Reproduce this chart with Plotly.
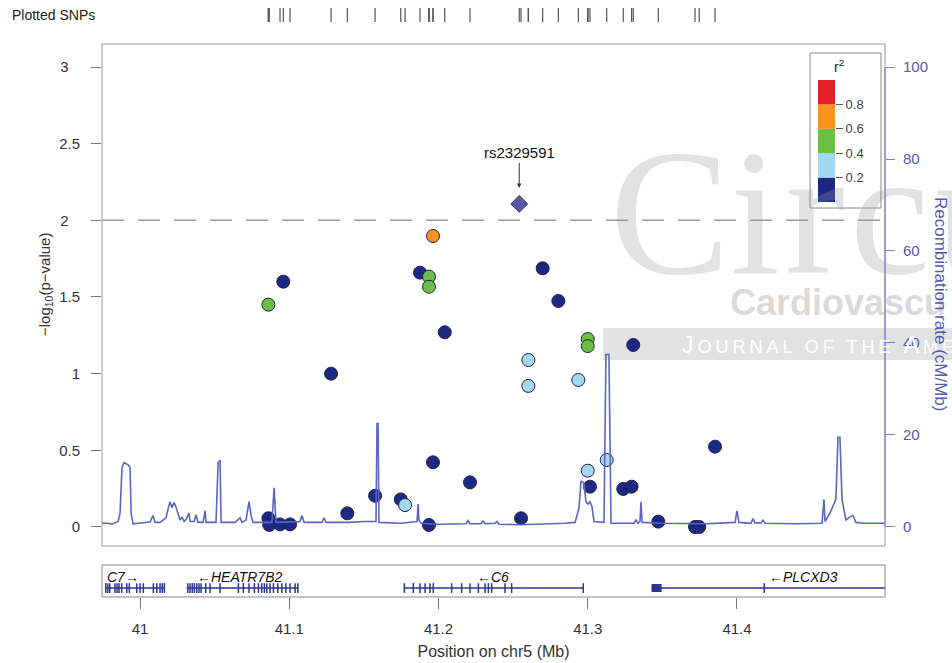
import plotly.graph_objects as go

# ---------------- data ----------------
snp_pos = [41.0860, 41.0960, 41.1280, 41.0860, 41.0866, 41.0938, 41.1005, 41.1389,
           41.1575, 41.1747, 41.1776, 41.1876, 41.1936, 41.1936, 41.1963, 41.1963,
           41.1936, 41.2042, 41.2211, 41.2553, 41.2602, 41.2602, 41.2698, 41.2803,
           41.2937, 41.3000, 41.3000, 41.3000, 41.3015, 41.3127, 41.3238, 41.3294,
           41.3305, 41.3473, 41.3719, 41.3747, 41.3853]
snp_logp = [1.45, 1.60, 1.00, 0.057, 0.013, 0.017, 0.017, 0.089,
            0.204, 0.18, 0.143, 1.659, 1.633, 1.567, 1.898, 0.422,
            0.013, 1.27, 0.291, 0.057, 1.089, 0.92, 1.687, 1.474,
            0.959, 1.226, 1.18, 0.367, 0.263, 0.437, 0.248, 0.263,
            1.187, 0.035, 0.0, 0.0, 0.524]
snp_r2 = [0.5, 0.1, 0.1, 0.1, 0.1, 0.1, 0.1, 0.1,
          0.1, 0.1, 0.3, 0.1, 0.5, 0.5, 0.7, 0.1,
          0.1, 0.1, 0.1, 0.1, 0.3, 0.3, 0.1, 0.1,
          0.3, 0.5, 0.5, 0.3, 0.1, 0.3, 0.1, 0.1,
          0.1, 0.1, 0.1, 0.1, 0.1]

lead_name = "rs2329591"
lead_pos = 41.2541
lead_logp = 2.107

recomb_pos = [40.9745, 40.9786, 40.9812, 40.9853, 40.9866, 40.9879, 40.9893, 40.9920,
              40.9933, 40.9940, 40.9953, 41.0000, 41.0067, 41.0087, 41.0101, 41.0134,
              41.0174, 41.0188, 41.0201, 41.0214, 41.0228, 41.0241, 41.0255, 41.0268,
              41.0281, 41.0295, 41.0308, 41.0328, 41.0335, 41.0362, 41.0375, 41.0389,
              41.0422, 41.0436, 41.0442, 41.0509, 41.0523, 41.0536, 41.0543, 41.0637,
              41.0670, 41.0683, 41.0710, 41.0730, 41.0744, 41.0757, 41.0884, 41.0898,
              41.0911, 41.1072, 41.1085, 41.1099, 41.1219, 41.1233, 41.1246, 41.1400,
              41.1500, 41.1581, 41.1588, 41.1595, 41.1601, 41.1750, 41.1856, 41.1863,
              41.1869, 41.1883, 41.2000, 41.2184, 41.2198, 41.2211, 41.2285, 41.2298,
              41.2312, 41.2379, 41.2392, 41.2405, 41.2550, 41.2700, 41.2850, 41.2915,
              41.2941, 41.2955, 41.2975, 41.2988, 41.3002, 41.3015, 41.3028, 41.3042,
              41.3109, 41.3122, 41.3142, 41.3156, 41.3310, 41.3323, 41.3337, 41.3350,
              41.3357, 41.3364, 41.3500, 41.3800, 41.3987, 41.4000, 41.4013, 41.4094,
              41.4107, 41.4121, 41.4161, 41.4174, 41.4188, 41.4400, 41.4570, 41.4583,
              41.4590, 41.4623, 41.4663, 41.4677, 41.4690, 41.4704, 41.4730, 41.4757,
              41.4777, 41.4797, 41.4850, 41.4992]
recomb_rate = [0.8, 0.8, 0.6, 1.2, 3.0, 13.0, 14.0, 13.5,
               13.0, 3.0, 0.7, 0.9, 1.1, 2.5, 1.0, 1.0,
               2.0, 4.0, 5.5, 4.2, 5.3, 4.3, 2.8, 1.5,
               2.2, 1.2, 1.6, 3.0, 1.2, 1.2, 2.6, 1.0,
               1.0, 3.5, 1.0, 1.0, 14.0, 14.5, 1.0, 1.0,
               2.0, 1.0, 1.5, 5.5, 2.5, 1.0, 1.0, 8.5,
               1.0, 1.2, 2.5, 1.0, 1.0, 2.0, 1.0, 1.0,
               1.2, 1.2, 22.5, 22.5, 1.0, 0.8, 1.2, 5.0,
               1.5, 0.8, 0.6, 0.7, 1.4, 0.7, 0.7, 1.3,
               0.7, 0.8, 1.2, 0.6, 0.5, 0.6, 0.8, 1.0,
               4.0, 10.0, 9.5, 5.5, 5.0, 5.5, 4.5, 1.2,
               1.0, 37.5, 37.5, 0.8, 0.8, 1.5, 0.8, 1.2,
               5.5, 1.0, 0.8, 0.7, 1.0, 3.5, 1.0, 0.8,
               1.8, 0.9, 0.9, 1.5, 0.8, 0.7, 0.8, 6.0,
               1.2, 3.0, 6.0, 19.5, 19.5, 6.0, 1.5, 2.2,
               2.5, 1.0, 0.8, 0.8]

gene_names = ["C7", "HEATR7B2", "C6", "PLCXD3"]
gene_labels = ["C7\u2192", "\u2190HEATR7B2", "\u2190C6", "\u2190PLCXD3"]
gene_start = [40.9765, 41.0313, 41.1768, 41.3428]
gene_end = [41.0165, 41.1061, 41.2970, 41.5100]
gene_label_pos = [40.9883, 41.0673, 41.2365, 41.4449]
gene_exons = [
    [40.9770, 40.9784, 40.9797, 40.9832, 40.9846, 40.9859, 40.9877, 40.9911, 40.9928,
     40.9978, 41.0000, 41.0022, 41.0089, 41.0112, 41.0134, 41.0149, 41.0163],
    [41.0320, 41.0335, 41.0350, 41.0364, 41.0380, 41.0395, 41.0409, 41.0440, 41.0469,
     41.0536, 41.0659, 41.0692, 41.0730, 41.0766, 41.0793, 41.0815, 41.0833, 41.0849,
     41.0871, 41.0894, 41.0923, 41.0950, 41.0977, 41.1005, 41.1039, 41.1057],
    [41.1771, 41.1831, 41.1876, 41.1910, 41.1943, 41.1965, 41.2088, 41.2155, 41.2211,
     41.2267, 41.2312, 41.2334, 41.2356, 41.2446, 41.2490, 41.2970],
    [41.4183],
]
utr_block = [41.3428, 41.3495]

x_ticks = [41.0, 41.1, 41.2, 41.3, 41.4]
x_ticktext = ["41", "41.1", "41.2", "41.3", "41.4"]
y_ticks = [0, 0.5, 1, 1.5, 2, 2.5, 3]
y_ticktext = ["0", "0.5", "1", "1.5", "2\u00a0\u00a0\u2009", "2.5", "3\u00a0\u00a0\u2009"]
y2_ticks = [0, 20, 40, 60, 80, 100]
y2_ticktext = ["0", "20", "40", "60", "80", "100"]
r2_bins = [0.0, 0.2, 0.4, 0.6, 0.8]
r2_colors = ["#1c2984", "#a2d9f0", "#6cbe45", "#f7941d", "#e31e26"]
r2_ticks = [0.2, 0.4, 0.6, 0.8]
sig_line = 2.0

# ---------------- styling ----------------
FONT = "Liberation Sans, Arial, sans-serif"
REC_COLOR = "#5a66c2"
GENE_COLOR = "#2b3592"
XR = [40.9745, 41.4992]
YR = [-0.124, 3.150]
Y2R = [YR[0] * 100 / 3, YR[1] * 100 / 3]


def r2_color(v):
    idx = 0
    for i, b in enumerate(r2_bins):
        if v >= b:
            idx = i
    return r2_colors[idx]


fig = go.Figure()

# recombination rate
fig.add_trace(go.Scatter(x=recomb_pos, y=recomb_rate, mode="lines", yaxis="y2",
                         line=dict(color=REC_COLOR, width=1.6), hoverinfo="skip"))

# SNPs
fig.add_trace(go.Scatter(x=snp_pos, y=snp_logp, mode="markers",
                         marker=dict(size=13, color=[r2_color(v) for v in snp_r2],
                                     line=dict(color="#222244", width=1)),
                         hoverinfo="x+y"))
fig.add_trace(go.Scatter(x=[lead_pos], y=[lead_logp], mode="markers",
                         marker=dict(symbol="diamond", size=13, color="#5b56a6",
                                     line=dict(color="#333366", width=1))))

# plotted SNP ticks
all_pos = snp_pos + [lead_pos]
tx, ty = [], []
for p in all_pos:
    tx += [p, p, None]
    ty += [0, 1, None]
fig.add_trace(go.Scatter(x=tx, y=ty, mode="lines", xaxis="x", yaxis="y4",
                         line=dict(color="#555555", width=1.2), hoverinfo="skip"))

# genes
gx, gy = [], []
for s, e in zip(gene_start, gene_end):
    gx += [s, e, None]
    gy += [0.28, 0.28, None]
fig.add_trace(go.Scatter(x=gx, y=gy, mode="lines", xaxis="x3", yaxis="y3",
                         line=dict(color=GENE_COLOR, width=1.5), hoverinfo="skip"))
ex = [p for ex_list in gene_exons for p in ex_list]
fig.add_trace(go.Scatter(x=ex, y=[0.28] * len(ex), mode="markers", xaxis="x3", yaxis="y3",
                         marker=dict(symbol="line-ns", size=7,
                                     line=dict(color=GENE_COLOR, width=1.5)),
                         hoverinfo="skip"))
fig.add_trace(go.Scatter(x=utr_block, y=[0.28, 0.28], mode="lines", xaxis="x3", yaxis="y3",
                         line=dict(color=GENE_COLOR, width=8), hoverinfo="skip"))

# r2 legend colour bar
fig.add_trace(go.Bar(x=[0] * len(r2_bins), y=[0.2] * len(r2_bins), base=r2_bins,
                     width=1, xaxis="x5", yaxis="y5",
                     marker=dict(color=r2_colors, line=dict(width=0)), hoverinfo="skip"))

# ---------------- layout ----------------
L, R, T, B = 102, 67, 0, 66
PH = 663 - T - B  # 597


def fy(px):
    return 1 - px / PH


def fx(px):
    return (px - L) / (952 - L - R)


axis_font = dict(family=FONT, size=15, color="#333333")

fig.update_layout(
    width=952, height=663,
    margin=dict(l=L, r=R, t=T, b=B),
    paper_bgcolor="white", plot_bgcolor="white",
    showlegend=False,
    font=dict(family=FONT, color="#222222"),
    xaxis=dict(domain=[0, 1], range=XR, showticklabels=False, ticks="",
               showgrid=False, zeroline=False, showline=False, anchor="y"),
    yaxis=dict(domain=[fy(546), fy(44)], range=YR, tickvals=y_ticks, ticktext=y_ticktext,
               ticks="outside", ticklen=10, tickcolor="#777777", tickfont=axis_font,
               ticklabelstandoff=8,
               showgrid=False, zeroline=False, showline=False, anchor="x"),
    yaxis2=dict(overlaying="y", side="right", range=Y2R, tickvals=y2_ticks,
                ticktext=y2_ticktext, ticks="outside", ticklen=9, tickcolor="#7a82cf",
                tickfont=dict(family=FONT, size=15, color="#5059b3"), ticklabelstandoff=5,
                showgrid=False, zeroline=False, showline=False, anchor="x"),
    yaxis4=dict(domain=[fy(22), fy(8)], range=[0, 1], visible=False, anchor="x"),
    xaxis3=dict(domain=[0, 1], range=XR, anchor="y3", tickvals=x_ticks, ticktext=x_ticktext,
                ticks="outside", ticklen=11, tickcolor="#777777", tickfont=axis_font,
                ticklabelstandoff=7,
                showgrid=False, zeroline=False, showline=False,
                title=dict(text="Position on chr5 (Mb)", font=dict(family=FONT, size=16, color="#333333"),
                           standoff=9)),
    yaxis3=dict(domain=[0, fy(565)], range=[0, 1], visible=False, anchor="x3"),
    xaxis5=dict(domain=[fx(818), fx(835)], range=[-0.5, 0.5], visible=False, anchor="y5"),
    yaxis5=dict(domain=[fy(202), fy(80)], range=[0, 1], anchor="x5", side="right",
                tickvals=r2_ticks, ticktext=[str(v) for v in r2_ticks], ticks="outside",
                ticklen=7, tickcolor="#555555",
                tickfont=dict(family=FONT, size=13, color="#444444"),
                showgrid=False, zeroline=False, showline=False),
)

shapes = [
    # watermark band (behind data)
    dict(type="rect", xref="paper", yref="paper", x0=fx(603), x1=fx(960), y0=fy(360), y1=fy(328),
         fillcolor="#e2e2e2", line=dict(width=0), layer="below"),
    # main frame
    dict(type="rect", xref="x domain", yref="y domain", x0=0, x1=1, y0=0, y1=1,
         line=dict(color="#999999", width=1), layer="above"),
    # right axis line
    dict(type="line", xref="x domain", yref="y2", x0=1, x1=1, y0=0, y1=100,
         line=dict(color="#7a82cf", width=1.2)),
    # significance line
    dict(type="line", xref="x domain", yref="y", x0=0, x1=1, y0=sig_line, y1=sig_line,
         line=dict(color="#9a9a9a", width=1.5, dash="22px,14px")),
    # gene panel frame
    dict(type="rect", xref="x3 domain", yref="y3 domain", x0=0, x1=1, y0=0, y1=1,
         line=dict(color="#888888", width=1)),
    # legend box
    dict(type="rect", xref="paper", yref="paper", x0=fx(810), x1=fx(881), y0=fy(208), y1=fy(53),
         fillcolor="white", line=dict(color="#888888", width=1), layer="below"),
]
fig.update_layout(shapes=shapes)

ann = [
    # watermark
    dict(xref="paper", yref="paper", x=fx(608), y=fy(212), xanchor="left", yanchor="middle",
         text="C<span style='letter-spacing:5px'>ircu</span>", showarrow=False,
         font=dict(family="Liberation Serif, serif", size=180, color="rgba(150,150,150,0.28)")),
    dict(xref="paper", yref="paper", x=fx(728), y=fy(302), xanchor="left", yanchor="middle",
         text="<b>Cardiovascu</b>", showarrow=False,
         font=dict(family=FONT, size=36, color="rgba(150,150,150,0.35)")),
    dict(xref="paper", yref="paper", x=fx(680), y=fy(345), xanchor="left", yanchor="middle",
         text="<span style='letter-spacing:4px'>J<span style='font-size:18px'>OURNAL OF THE</span> A<span style='font-size:18px'>MERICAN</span></span>",
         showarrow=False, font=dict(family=FONT, size=23, color="white")),
    # labels
    dict(xref="paper", yref="paper", x=fx(10), y=fy(15), xanchor="left", yanchor="middle",
         text="Plotted SNPs", showarrow=False, font=dict(family=FONT, size=14, color="#222222")),
    dict(xref="paper", yref="paper", x=fx(45), y=fy(285), xanchor="center", yanchor="middle",
         text="\u2212log<sub>10</sub>(p\u2212value)", textangle=-90, showarrow=False,
         font=dict(family=FONT, size=15, color="#333333")),
    dict(xref="paper", yref="paper", x=fx(941), y=fy(304), xanchor="center", yanchor="middle",
         text="Recombination rate (cM/Mb)", textangle=90, showarrow=False,
         font=dict(family=FONT, size=17, color="#5059b3")),
    dict(xref="paper", yref="paper", x=fx(839), y=fy(66), xanchor="center", yanchor="middle",
         text="r<sup>2</sup>", showarrow=False, font=dict(family=FONT, size=14, color="#222222")),
    # lead SNP
    dict(x=lead_pos, y=lead_logp, xref="x", yref="y", text=lead_name, showarrow=True,
         ax=0, ay=-51, arrowhead=2, arrowsize=0.9, arrowwidth=1, arrowcolor="#333333",
         standoff=16, font=dict(family=FONT, size=15, color="#111111")),
]
for lab, p in zip(gene_labels, gene_label_pos):
    ann.append(dict(x=p, y=0.62, xref="x3", yref="y3", text="<i>" + lab + "</i>", showarrow=False,
                    xanchor="center", yanchor="middle",
                    font=dict(family=FONT, size=14, color="#111111")))
fig.update_layout(annotations=ann)

fig.write_html("out.html")
